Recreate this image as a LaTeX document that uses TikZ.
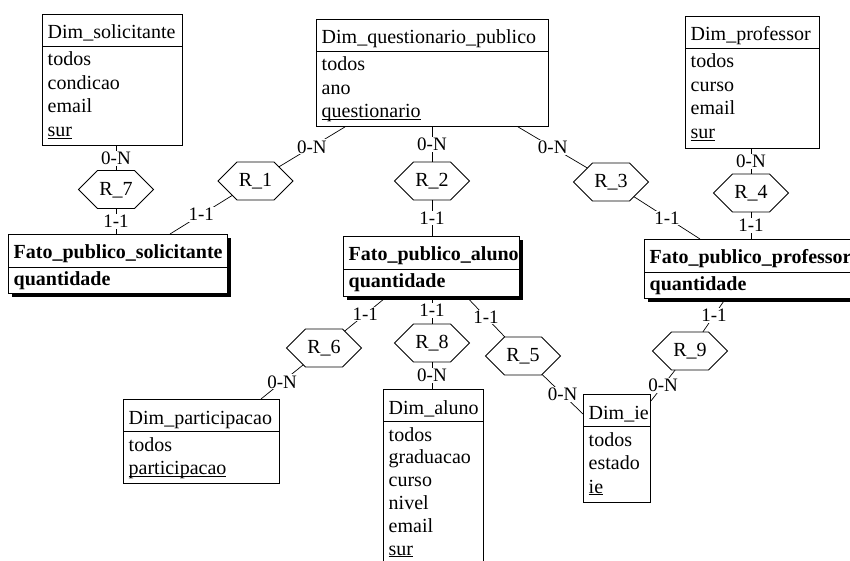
\documentclass[tikz,border=0pt]{standalone}
\usepackage{fontspec}
\setmainfont{Liberation Serif}
\usetikzlibrary{calc,shadows,intersections}

\newcommand{\dfont}{\fontsize{20}{23.5}\selectfont}
\newcommand{\keyu}[1]{\setbox0\hbox{#1}\rlap{\rule[-2pt]{\wd0}{0.9pt}}\box0}

\tikzset{
  dimbox/.style={draw, line width=0.9pt, fill=white, inner sep=0pt, anchor=north west},
  fatobox/.style={draw, line width=1.3pt, fill=white, inner sep=0pt, anchor=north west,
    drop shadow={shadow xshift=3.5pt, shadow yshift=-3.5pt, fill=black, opacity=1}},
  sepline/.style={line width=0.9pt},
  txt/.style={inner sep=0pt, anchor=base west, font=\dfont},
  btxt/.style={inner sep=0pt, anchor=base west, font=\dfont\bfseries},
  hexline/.style={draw, line width=0.8pt, fill=white, line join=miter},
  hextxt/.style={inner sep=0pt, minimum width=75pt, minimum height=38pt, font=\dfont},
  conn/.style={line width=0.7pt},
  card/.style={fill=white, inner sep=1pt, font=\fontsize{19}{22}\selectfont},
}

\newcommand{\dimentity}[6]{%
  \node[dimbox, minimum width=#4pt, minimum height=#5pt] (#1) at (#2,#3) {};
  \draw[sepline] ($(#1.north west)+(0,32)$) -- ($(#1.north east)+(0,32)$);
  \node[txt] (#1-title) at ($(#1.north west)+(5.5,25)$) {#6};
}
\newcommand{\entrows}[3]{%
  \foreach \r [count=\i] in {#3} {\node[txt] (#1-r\i) at ($(#1.north west)+(5.5,{52+#2*(\i-1)})$) {\r};}
}
\newcommand{\fatoentity}[7]{%
  \node[fatobox, minimum width=#4pt, minimum height=#5pt] (#1) at (#2,#3) {};
  \draw[sepline] ($(#1.north west)+(0,33)$) -- ($(#1.north east)+(0,33)$);
  \node[btxt] (#1-title) at ($(#1.north west)+(5.5,24)$) {#6};
  \node[btxt] (#1-r1) at ($(#1.north west)+(5.5,51)$) {#7};
}
% hexagonal relationship: name, x, y, text
\newcommand{\relation}[4]{%
  \coordinate (#1-c) at (#2,#3);
  \path[hexline, name path=hp#1] ($(#1-c)+(-37.5,0)$) -- ++(19,-19) -- ++(37,0) -- ++(19,19)
     -- ++(-19,19) -- ++(-37,0) -- cycle;
  \node[hextxt] (#1) at ($(#1-c)+(0,0.5)$) {#4};
}
% connector: id, relationship, end point, cardinality
\newcommand{\connect}[4]{%
  \path[name path=cp#1] (#2-c) -- (#3);
  \draw[conn, name intersections={of=cp#1 and hp#2, by=ix#1}] (ix#1) -- node[card] (lab#1) {#4} (#3);
}

\begin{document}
\begin{tikzpicture}[x=1pt, y=-1pt]
\useasboundingbox (0,0) rectangle (850,561);
\clip (0,0) rectangle (850,561);
\fill[white] (0,0) rectangle (850,561);

% dimension entities
\dimentity{sol}{42}{14}{140}{131}{Dim\_solicitante}
\entrows{sol}{23.5}{todos,condicao,email,\keyu{sur}}
\dimentity{dq}{316}{19}{232}{107}{Dim\_questionario\_publico}
\entrows{dq}{23.5}{todos,ano,\keyu{questionario}}
\dimentity{prof}{685}{16}{134}{132}{Dim\_professor}
\entrows{prof}{23.5}{todos,curso,email,\keyu{sur}}
\dimentity{part}{123}{399}{156}{84}{Dim\_participacao}
\entrows{part}{23.5}{todos,\keyu{participacao}}
\dimentity{alu}{383}{389}{100}{185}{Dim\_aluno}
\entrows{alu}{22.8}{todos,graduacao,curso,nivel,email,\keyu{sur}}
\dimentity{ie}{583}{394}{67}{108}{Dim\_ie}
\entrows{ie}{23.5}{todos,estado,\keyu{ie}}

% fact entities
\fatoentity{fsol}{8}{234}{219}{59}{Fato\_publico\_solicitante}{quantidade}
\fatoentity{falu}{343}{236}{176}{60}{Fato\_publico\_aluno}{quantidade}
\fatoentity{fprof}{644}{239}{215}{59}{Fato\_publico\_professor}{quantidade}

% relationships
\relation{r7}{116}{189.5}{R\_7}
\relation{r1}{255.5}{181}{R\_1}
\relation{r2}{432}{181}{R\_2}
\relation{r3}{611}{182}{R\_3}
\relation{r4}{751}{193}{R\_4}
\relation{r6}{324}{348}{R\_6}
\relation{r8}{432}{343}{R\_8}
\relation{r5}{523}{356}{R\_5}
\relation{r9}{690}{351}{R\_9}

% attachment points
\coordinate (sol-b) at ($(sol.south west)+(74,0)$);
\coordinate (dq-b1) at ($(dq.south west)+(29,0)$);
\coordinate (dq-b2) at ($(dq.south west)+(116,0)$);
\coordinate (dq-b3) at ($(dq.south west)+(202,0)$);
\coordinate (prof-b) at ($(prof.south west)+(66,0)$);
\coordinate (fsol-t1) at ($(fsol.north west)+(108,0)$);
\coordinate (fsol-t2) at ($(fsol.north west)+(162,0)$);
\coordinate (falu-t) at ($(falu.north west)+(89,0)$);
\coordinate (falu-b1) at ($(falu.south west)+(43,0)$);
\coordinate (falu-b2) at ($(falu.south west)+(89,0)$);
\coordinate (falu-b3) at ($(falu.south west)+(124,0)$);
\coordinate (fprof-t1) at ($(fprof.north west)+(56,0)$);
\coordinate (fprof-t2) at ($(fprof.north west)+(107,0)$);
\coordinate (fprof-b) at ($(fprof.south west)+(81,0)$);
\coordinate (part-t) at ($(part.north west)+(138,0)$);
\coordinate (alu-t) at ($(alu.north west)+(49,0)$);
\coordinate (ie-l) at ($(ie.north west)+(0,20)$);
\coordinate (ie-r) at ($(ie.north east)+(0,7)$);

% connectors
\connect{a}{r7}{sol-b}{0-N}
\connect{b}{r7}{fsol-t1}{1-1}
\connect{c}{r1}{dq-b1}{0-N}
\connect{d}{r1}{fsol-t2}{1-1}
\connect{e}{r2}{dq-b2}{0-N}
\connect{f}{r2}{falu-t}{1-1}
\connect{g}{r3}{dq-b3}{0-N}
\connect{h}{r3}{fprof-t1}{1-1}
\connect{i}{r4}{prof-b}{0-N}
\connect{j}{r4}{fprof-t2}{1-1}
\connect{k}{r6}{falu-b1}{1-1}
\connect{l}{r6}{part-t}{0-N}
\connect{m}{r8}{falu-b2}{1-1}
\connect{n}{r8}{alu-t}{0-N}
\connect{o}{r5}{falu-b3}{1-1}
\connect{p}{r5}{ie-l}{0-N}
\connect{q}{r9}{fprof-b}{1-1}
\connect{s}{r9}{ie-r}{0-N}
\end{tikzpicture}
\end{document}
